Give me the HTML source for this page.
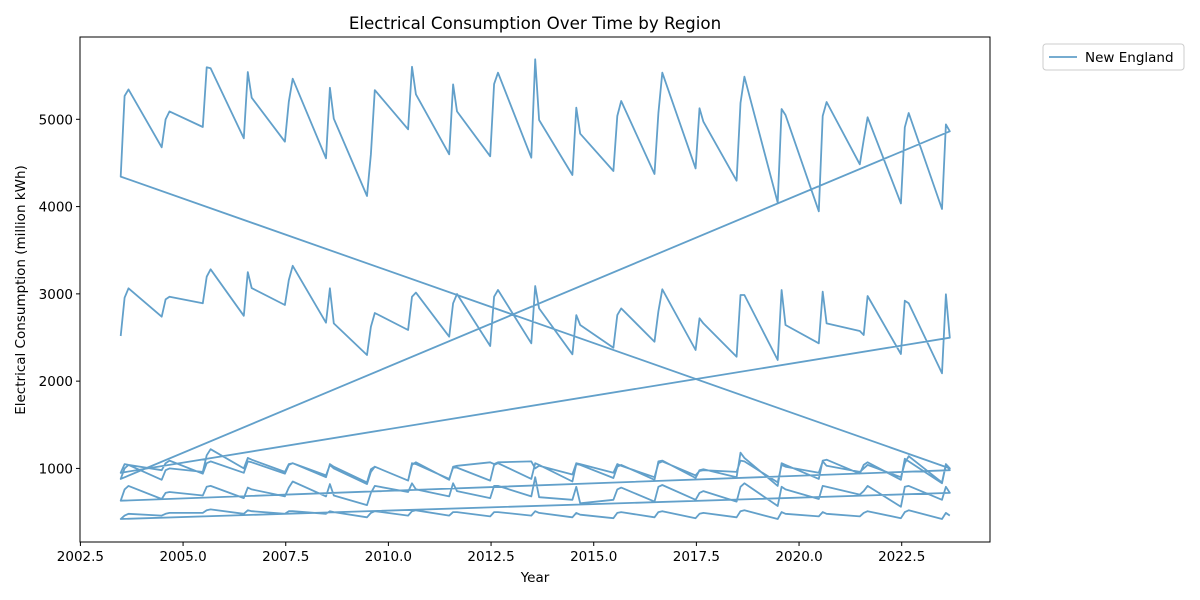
<!DOCTYPE html>
<html><head><meta charset="utf-8"><style>
body{margin:0;background:#fff;}
svg{display:block;font-family:"DejaVu Sans","Liberation Sans",sans-serif;}
</style></head><body>
<svg id="chart" width="1200" height="600" viewBox="0 0 1200 600">
<rect width="1200" height="600" fill="#fff"/>
<text x="535" y="29" font-size="16.7" text-anchor="middle">Electrical Consumption Over Time by Region</text>
<g id="grid"></g>
<path id="series" fill="none" stroke="#1f77b4" stroke-opacity="0.7" stroke-width="1.8" stroke-linejoin="round"/>
<rect x="80" y="37" width="910" height="505" fill="none" stroke="#000" stroke-width="1"/>
<g id="xticks"></g>
<g id="yticks"></g>
<text x="535" y="582" font-size="13.5" text-anchor="middle">Year</text>
<text transform="translate(25,290) rotate(-90)" font-size="13.5" text-anchor="middle">Electrical Consumption (million kWh)</text>
<g>
<rect x="1043" y="44" width="141" height="26" rx="3" fill="#fff" stroke="#ccc"/>
<line x1="1049" y1="57" x2="1077" y2="57" stroke="#1f77b4" stroke-opacity="0.7" stroke-width="1.8"/>
<text x="1085" y="62" font-size="13.5">New England</text>
</g>
</svg>
<script>
const years = [2003,2004,2005,2006,2007,2008,2009,2010,2011,2012,2013,2014,2015,2016,2017,2018,2019,2020,2021,2022,2023];
const monthOffsets = [0.48,0.575,0.67];
const seriesB = [2517,2956,3064, 2738,2937,2968, 2892,3197,3281, 2749,3249,3066, 2872,3158,3322, 2670,3064,2662, 2300,2623,2781, 2586,2968,3014, 2509,2892,2999, 2403,2968,3044, 2434,3090,2834, 2307,2757,2643, 2383,2757,2834, 2452,2800,3052, 2357,2720,2662, 2280,2987,2987, 2242,3044,2643, 2434,3025,2662, 2574,2529,2976, 2311,2922,2892, 2090,2995,2498];
const seriesD = [950,1050,1040, 980,1060,1090, 940,1060,1080, 950,1080,1070, 940,1040,1060, 900,1050,1020, 840,990,1020, 860,1040,1070, 870,1020,1030, 1070,1050,1070, 1080,1000,1030, 930,1060,1050, 950,1050,1030, 900,1060,1080, 920,970,980, 960,1090,1080, 840,1040,1020, 950,1080,1030, 960,1000,1040, 900,1060,1140, 840,1050,1000];
const seriesA = [4343,5267,5343, 4679,4999,5091, 4912,5596,5584, 4782,5542,5247, 4743,5201,5465, 4553,5361,5007, 4121,4600,5335, 4885,5602,5287, 4599,5400,5090, 4576,5403,5534, 4560,5687,4992, 4362,5133,4835, 4408,5038,5210, 4373,5072,5534, 4438,5126,4973, 4296,5187,5488, 4044,5118,5049, 3946,5038,5198, 4484,4763,5023, 4037,4908,5072, 3972,4942,4862];
const seriesC = [880,1000,1040, 870,980,1000, 960,1150,1220, 1000,1120,1100, 960,1050,1060, 920,1040,1000, 820,960,1020, 860,1060,1050, 880,1010,1010, 860,1040,1060, 880,1060,1040, 850,1050,1040, 890,1020,1040, 870,1080,1090, 890,980,990, 900,1180,1120, 800,1060,1040, 880,1090,1100, 940,1040,1070, 870,1110,1080, 830,1040,980];
const seriesE = [630,760,800, 650,720,730, 690,790,800, 660,780,760, 680,780,850, 680,820,690, 580,720,800, 730,830,760, 680,830,740, 660,800,800, 680,900,670, 640,790,600, 640,760,780, 620,790,810, 640,720,740, 620,790,830, 570,790,760, 650,800,790, 700,740,800, 560,790,800, 640,790,720];
const seriesF = [420,460,480, 460,480,490, 490,520,530, 480,520,510, 480,510,510, 480,510,500, 440,490,510, 460,510,520, 460,500,500, 450,500,500, 460,510,490, 440,490,470, 430,490,500, 440,500,510, 430,480,490, 440,510,520, 420,500,480, 450,500,480, 450,490,510, 430,500,520, 420,490,460];
const seriesOrder = [seriesB, seriesD, seriesA, seriesC, seriesE, seriesF];
const xTickLabels = ["2002.5","2005.0","2007.5","2010.0","2012.5","2015.0","2017.5","2020.0","2022.5"];
const yTickLabels = ["1000","2000","3000","4000","5000"];

const NS = "http://www.w3.org/2000/svg";
const X0 = 80, X1 = 990, Y0 = 542, Y1 = 37;
const xMin = 2002.49, xMax = 2024.65, yMin = 157, yMax = 5943;
function xs(v){ return X0 + (v - xMin) / (xMax - xMin) * (X1 - X0); }
function ys(v){ return Y0 - (v - yMin) / (yMax - yMin) * (Y0 - Y1); }

let d = "";
seriesOrder.forEach(s => {
  s.forEach((v, i) => {
    const t = years[Math.floor(i / 3)] + monthOffsets[i % 3];
    d += (d ? "L" : "M") + xs(t).toFixed(1) + "," + ys(v).toFixed(1);
  });
});
document.getElementById("series").setAttribute("d", d);

const xt = document.getElementById("xticks");
xTickLabels.forEach(lbl => {
  const x = xs(parseFloat(lbl));
  const l = document.createElementNS(NS, "line");
  l.setAttribute("x1", x); l.setAttribute("x2", x); l.setAttribute("y1", Y0); l.setAttribute("y2", Y0 + 4);
  l.setAttribute("stroke", "#000");
  
  
  xt.appendChild(l);
  const t = document.createElementNS(NS, "text");
  t.setAttribute("x", x); t.setAttribute("y", Y0 + 19);
  t.setAttribute("font-size", "13.5"); t.setAttribute("text-anchor", "middle");
  t.textContent = lbl;
  
  
  xt.appendChild(t);
});
const yt = document.getElementById("yticks");
yTickLabels.forEach(lbl => {
  const y = ys(parseFloat(lbl));
  const l = document.createElementNS(NS, "line");
  l.setAttribute("x1", X0 - 4); l.setAttribute("x2", X0); l.setAttribute("y1", y); l.setAttribute("y2", y);
  l.setAttribute("stroke", "#000");
  
  
  yt.appendChild(l);
  const t = document.createElementNS(NS, "text");
  t.setAttribute("x", X0 - 7); t.setAttribute("y", y + 5);
  t.setAttribute("font-size", "13.5"); t.setAttribute("text-anchor", "end");
  t.textContent = lbl;
  
  
  yt.appendChild(t);
});
</script>
</body></html>
